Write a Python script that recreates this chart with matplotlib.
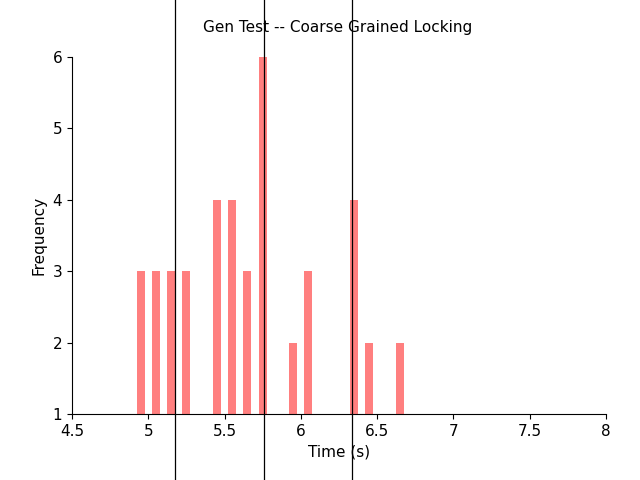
import matplotlib.pyplot as plt

# histogram bins (bin centres) and counts
bin_centres = [4.95, 5.05, 5.15, 5.25, 5.45, 5.55, 5.65, 5.75, 5.95, 6.05, 6.35, 6.45, 6.65]
counts = [3, 3, 3, 3, 4, 4, 3, 6, 2, 3, 4, 2, 2]
markers = [5.175, 5.758, 6.335]   # vertical reference lines
x_ticks = [4.5, 5, 5.5, 6, 6.5, 7, 7.5, 8]
x_labels = ["4.5", "5", "5.5", "6", "6.5", "7", "7.5", "8"]

fig = plt.figure(figsize=(6.4, 4.8), dpi=100)
ax = fig.add_axes([0.1125, 0.1375, 0.834, 0.744])

base = 1
ax.bar(bin_centres, [c - base for c in counts], bottom=base, width=0.052,
       color='#ff7f7f', edgecolor='none')

for m in markers:
    ax.axvline(m, ymin=-0.19, ymax=1.17, color='black', lw=0.9, clip_on=False)

ax.set_xlim(4.5, 8)
ax.set_ylim(1, 6)
ax.set_xticks(x_ticks)
ax.set_xticklabels(x_labels)
ax.set_yticks(range(1, 7))
for s in ['top', 'right']:
    ax.spines[s].set_visible(False)
ax.tick_params(labelsize=11)
ax.set_xlabel("Time (s)", fontsize=11)
ax.set_ylabel("Frequency", fontsize=11)
fig.text(0.528, 0.943, "Gen Test -- Coarse Grained Locking", ha='center', va='center', fontsize=11)

fig.savefig("out.png", dpi=100)
